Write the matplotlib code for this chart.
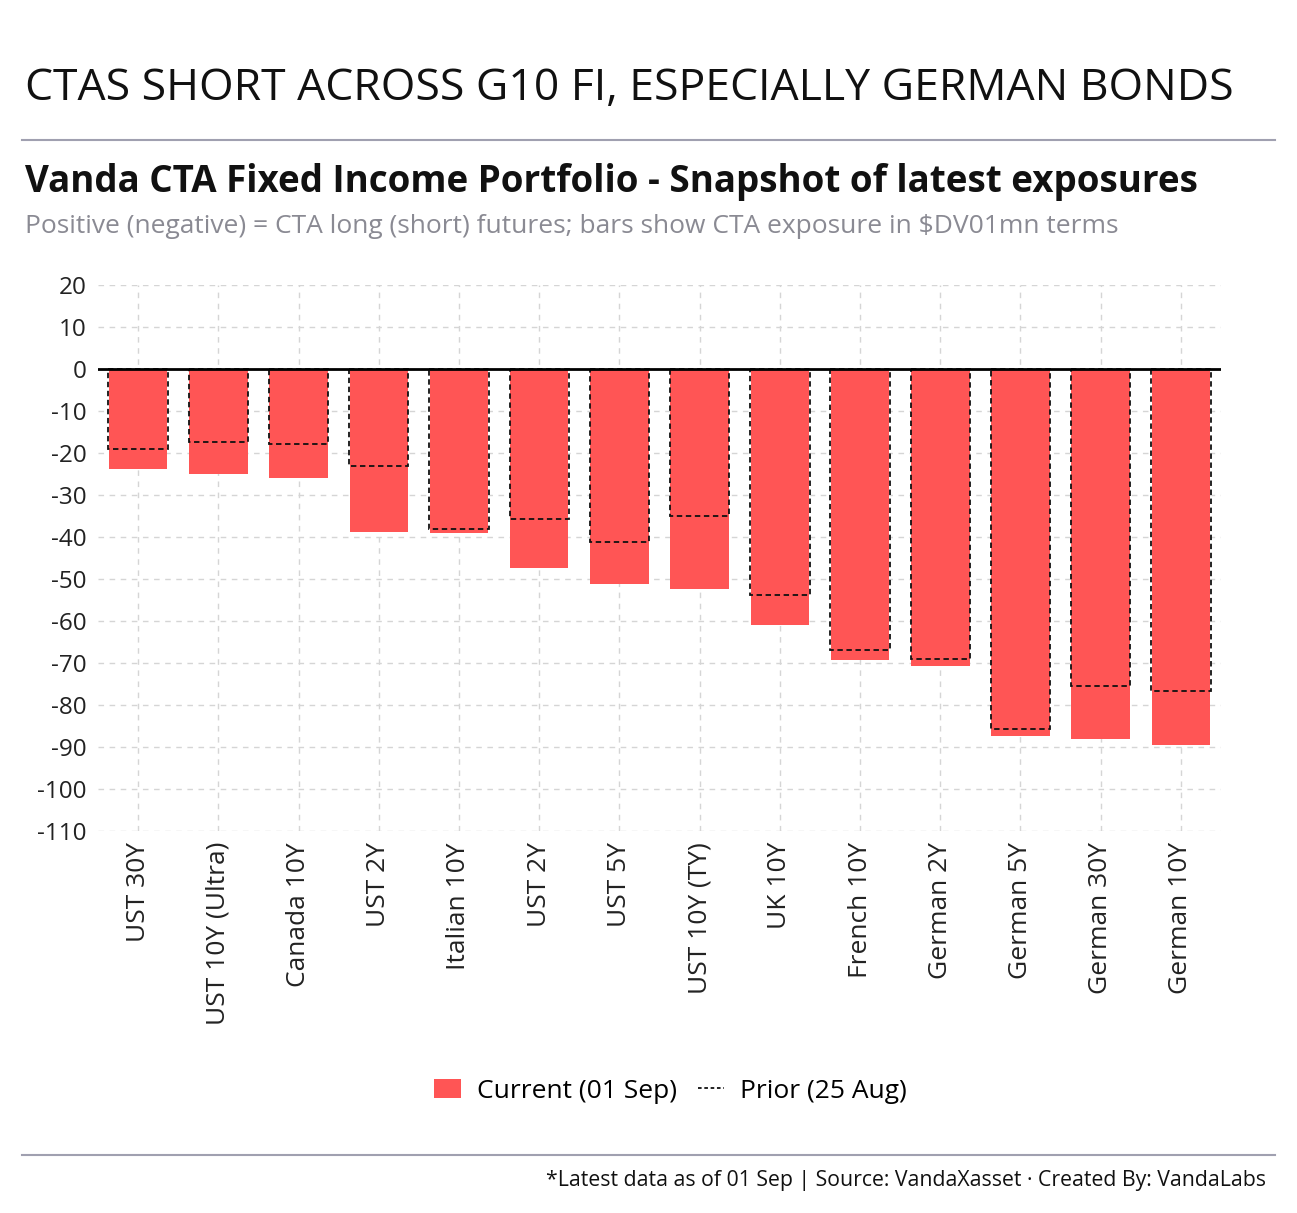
import numpy as np
import matplotlib
matplotlib.use('Agg')
import matplotlib.pyplot as plt
from matplotlib.patches import Patch
from matplotlib.lines import Line2D

plt.rcParams['font.family'] = ['Open Sans', 'DejaVu Sans']
plt.rcParams['axes.unicode_minus'] = False

# data
categories = ['UST 30Y', 'UST 10Y (Ultra)', 'Canada 10Y', 'UST 2Y', 'Italian 10Y', 'UST 2Y',
              'UST 5Y', 'UST 10Y (TY)', 'UK 10Y', 'French 10Y', 'German 2Y', 'German 5Y',
              'German 30Y', 'German 10Y']
current = [-23.8, -24.9, -25.9, -38.8, -39.1, -47.5, -51.3, -52.4, -60.9, -69.2, -70.8, -87.5, -88.0, -89.6]
prior = [-19.0, -17.4, -17.9, -23.1, -38.2, -35.8, -41.2, -35.1, -53.9, -66.8, -69.1, -85.7, -75.4, -76.7]

red = '#FF5555'

fig = plt.figure(figsize=(12.97, 12.13), dpi=100)
ax = fig.add_axes([0.0756, 0.315, 0.8658, 0.45])

x = np.arange(len(categories))
ax.bar(x, current, width=0.73, color=red, zorder=2)
ax.bar(x, prior, width=0.74, fill=False, edgecolor='#111111', linestyle=(0, (3, 2)), linewidth=1.3, zorder=3)
ax.axhline(0, color='black', lw=2, zorder=4)

ax.set_xlim(-0.5, len(categories) - 0.5)
ax.set_ylim(-110, 20)
ax.set_yticks(np.arange(-110, 21, 10))
ax.set_xticks(x)
ax.set_xticklabels(categories, rotation=90, fontsize=19, color='#222222')
for lab in ax.get_yticklabels():
	lab.set_fontsize(17.5)
	lab.set_color('#222222')
ax.tick_params(length=0, pad=8)
ax.grid(True, color='#d5d5d5', linestyle=(0, (4, 4)), linewidth=1, zorder=0)
ax.set_axisbelow(True)
for s in ax.spines.values():
	s.set_visible(False)

# header
fig.text(0.019, 0.927, 'CTAS SHORT ACROSS G10 FI, ESPECIALLY GERMAN BONDS', fontsize=32, color='#111111', va='center')
fig.add_artist(Line2D([0.017, 0.983], [0.8845, 0.8845], color='#a0a0b0', lw=1.5))
fig.text(0.019, 0.850, 'Vanda CTA Fixed Income Portfolio - Snapshot of latest exposures', fontsize=26.5,
		 fontweight='bold', color='#111111', va='center')
fig.text(0.019, 0.813, 'Positive (negative) = CTA long (short) futures; bars show CTA exposure in $DV01mn terms',
		 fontsize=19, color='#8a8a93', va='center')

# legend
handles = [Patch(facecolor=red, edgecolor='none'),
		   Line2D([0], [0], color='#111111', linestyle=(0, (2, 1.5)), lw=1.3)]
fig.legend(handles, ['Current (01 Sep)', 'Prior (25 Aug)'], loc='center', bbox_to_anchor=(0.517, 0.1005),
		   ncol=2, frameon=False, fontsize=19, handlelength=1.0, handletextpad=0.6, columnspacing=0.8)

# footer
fig.add_artist(Line2D([0.017, 0.983], [0.0478, 0.0478], color='#a0a0b0', lw=1.5))
fig.text(0.976, 0.0265, '*Latest data as of 01 Sep | Source: VandaXasset \u00b7 Created By: VandaLabs',
		 fontsize=15.3, color='#111111', ha='right', va='center')

fig.savefig('out.png', dpi=100)
